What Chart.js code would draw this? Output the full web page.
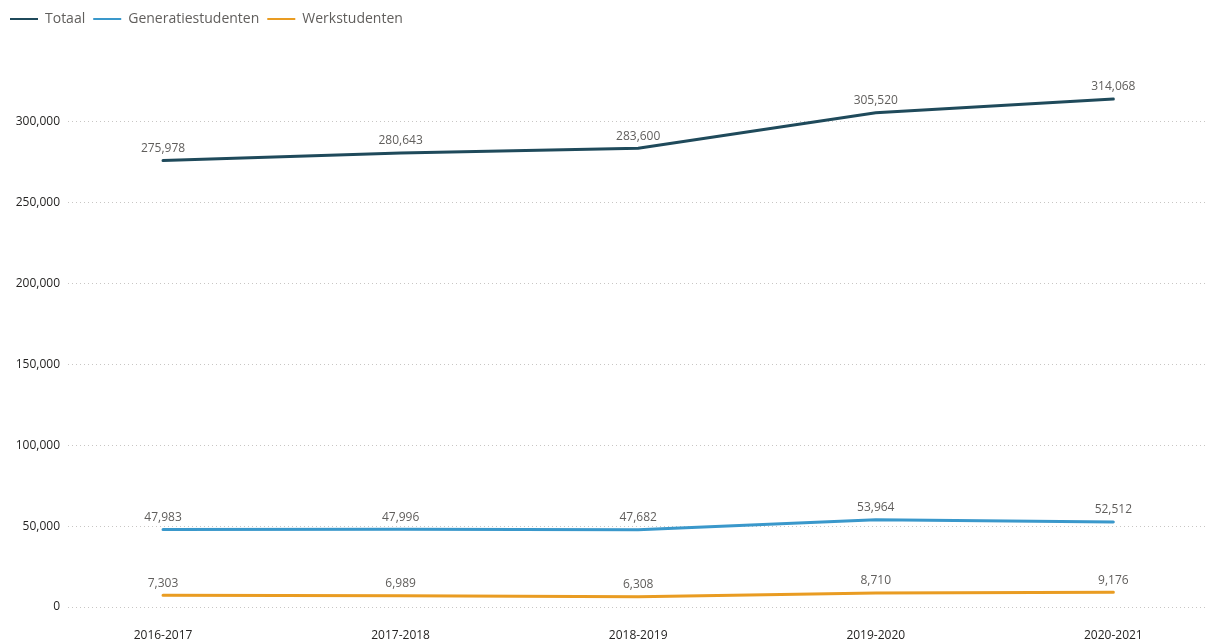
<!DOCTYPE html>
<html>
<head>
<meta charset="utf-8">
<script src="https://cdn.jsdelivr.net/npm/chart.js@4"></script>
<style>
  body { margin: 0; background: #fff; }
  #wrap { width: 1206px; height: 641px; position: relative; }
</style>
</head>
<body>
<div id="wrap"><canvas id="grafiek"></canvas></div>
<script>
// studenten per academiejaar
const jaren = ['2016-2017', '2017-2018', '2018-2019', '2019-2020', '2020-2021'];
const totaal = [275978, 280643, 283600, 305520, 314068];
const generatie = [47983, 47996, 47682, 53964, 52512];
const werk = [7303, 6989, 6308, 8710, 9176];
const yTicks = [0, 50000, 100000, 150000, 200000, 250000, 300000];

const fmt = v => v.toLocaleString('en-US');
const punten = arr => arr.map((v, i) => ({ x: i, y: v }));

// labels boven elk punt
const waardeLabels = {
  id: 'waardeLabels',
  afterDatasetsDraw(chart) {
    const ctx = chart.ctx;
    ctx.save();
    ctx.font = '12px "Open Sans", sans-serif';
    ctx.fillStyle = '#605e5c';
    ctx.textAlign = 'center';
    ctx.textBaseline = 'bottom';
    chart.data.datasets.forEach((ds, di) => {
      chart.getDatasetMeta(di).data.forEach((pt, i) => {
        ctx.fillText(fmt(ds.data[i].y), pt.x, pt.y - 6);
      });
    });
    ctx.restore();
  }
};

new Chart(document.getElementById('grafiek'), {
  type: 'line',
  data: {
    datasets: [
      { label: 'Totaal', data: punten(totaal), borderColor: '#1f4a5b', backgroundColor: '#1f4a5b' },
      { label: 'Generatiestudenten', data: punten(generatie), borderColor: '#3a98cb', backgroundColor: '#3a98cb' },
      { label: 'Werkstudenten', data: punten(werk), borderColor: '#e99c22', backgroundColor: '#e99c22' },
    ],
  },
  options: {
    responsive: true,
    maintainAspectRatio: false,
    animation: false,
    elements: {
      line: { borderWidth: 3, tension: 0, borderCapStyle: 'round' },
      point: { radius: 0, hoverRadius: 0 },
    },
    layout: { padding: { top: 4, right: 0, bottom: 0, left: 2 } },
    plugins: {
      tooltip: { enabled: false },
      legend: {
        position: 'top',
        align: 'start',
        labels: {
          boxWidth: 28,
          boxHeight: 2,
          padding: 8,
          color: '#605e5c',
          font: { family: '"Open Sans", sans-serif', size: 14 },
          generateLabels: chart =>
            Chart.defaults.plugins.legend.labels.generateLabels(chart).map(l => ({ ...l, lineWidth: 0 })),
        },
      },
    },
    scales: {
      x: {
        type: 'linear',
        min: -0.4,
        max: 4.39,
        afterBuildTicks: s => { s.ticks = jaren.map((_, i) => ({ value: i })); },
        afterFit: s => { s.height = 34; },
        grid: { display: false, drawTicks: false },
        border: { display: false },
        ticks: {
          padding: 21,
          color: '#252423',
          font: { family: '"Open Sans", sans-serif', size: 12 },
          callback: v => jaren[v],
          maxRotation: 0,
          autoSkip: false,
        },
      },
      y: {
        min: 0,
        max: 353000,
        afterBuildTicks: s => { s.ticks = yTicks.map(v => ({ value: v })); },
        afterFit: s => { s.width = 66; },
        grid: { color: '#c8c6c4', lineWidth: 1, drawTicks: false },
        border: { display: false, dash: [1, 3] },
        ticks: {
          padding: 8,
          color: '#252423',
          font: { family: '"Open Sans", sans-serif', size: 12 },
          callback: v => fmt(v),
        },
      },
    },
  },
  plugins: [waardeLabels],
});
</script>
</body>
</html>
